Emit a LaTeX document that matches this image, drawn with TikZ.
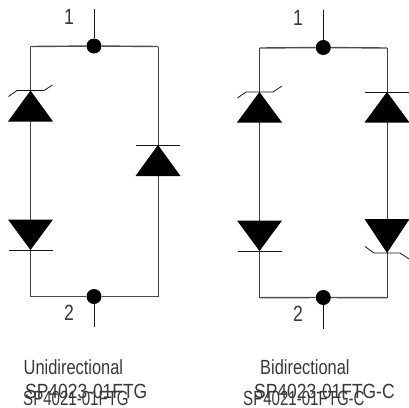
\documentclass[tikz,border=0pt]{standalone}
\usepackage{fontspec}
\setmainfont{Liberation Sans}
\newfontfamily\narrowA[FakeStretch=0.80]{Liberation Sans}
\newfontfamily\narrowC[FakeStretch=0.85]{Liberation Sans}
\newfontfamily\narrowB[FakeStretch=0.735]{Liberation Sans}
\definecolor{ink}{gray}{0.08}
\definecolor{txt}{gray}{0.22}
\tikzset{
  wire/.style={draw=black!75,line width=1pt},
  hwire/.style={draw=black!70,line width=1.4pt},
  stub/.style={draw=ink,line width=1pt},
  bar/.style={draw=ink,line width=0.8pt},
  junction/.style={circle,fill=black,inner sep=0pt,minimum size=15pt},
  lab/.style={inner sep=0pt,anchor=base west,text=txt},
  num/.style={lab,font=\fontsize{22}{22}\narrowA},
  capA/.style={lab,font=\fontsize{20.5}{20.5}\narrowA},
  capC/.style={lab,font=\fontsize{20.5}{20.5}\narrowC},
  capB/.style={lab,font=\fontsize{20.5}{20.5}\narrowB},
}
% \diodeshape{name}{x}{base y}{apex y}
\newcommand{\diodeshape}[4]{%
  \fill[black] (#2-22.5,#3) -- (#2+22.5,#3) -- (#2,#4) -- cycle;
  \coordinate (#1) at (#2,#4);
}
\begin{document}
\begin{tikzpicture}[x=1pt,y=-1pt]
\useasboundingbox (0,0) rectangle (409,407);
% ---- left circuit
\node[junction] (Ltop) at (94,46) {};
\node[junction] (Lbot) at (94,296.5) {};
\coordinate (Lt1) at (94,9);
\coordinate (Lb1) at (94,327);
\coordinate (Ltl) at (30.5,46.5);
\coordinate (Ltr) at (158,46.5);
\coordinate (Lbl) at (30.5,296.5);
\coordinate (Lbr) at (158,296.5);
\draw[stub] (Ltop) -- (Lt1);
\draw[stub] (Lbot) -- (Lb1);
\draw[hwire] (Ltl) -- (Ltop) -- (Ltr);
\draw[hwire] (Lbl) -- (Lbot) -- (Lbr);
\draw[wire] (Ltl) -- (Lbl);
\draw[wire] (Ltr) -- (Lbr);
\diodeshape{La}{30.5}{121.5}{90.5}
\draw[bar] (8.5,96.5) -- (17,90.5) -- (44,90.5) -- (52.5,85);
\diodeshape{Lb}{30.5}{219.5}{250}
\draw[bar] (8.5,250) -- (53,250);
\diodeshape{Lc}{158}{176}{145}
\draw[bar] (136,145) -- (180,145);
\node[num] (n1) at (64,24) {1};
\node[num] (n2) at (64,320) {2};
% ---- right circuit
\node[junction] (Rtop) at (323.3,47.5) {};
\node[junction] (Rbot) at (323.3,297.5) {};
\coordinate (Rt1) at (323.3,10);
\coordinate (Rb1) at (323.3,328.5);
\coordinate (Rtl) at (259.5,48);
\coordinate (Rtr) at (387,48);
\coordinate (Rbl) at (259.5,297.7);
\coordinate (Rbr) at (387,297.7);
\draw[stub] (Rtop) -- (Rt1);
\draw[stub] (Rbot) -- (Rb1);
\draw[hwire] (Rtl) -- (Rtop) -- (Rtr);
\draw[hwire] (Rbl) -- (Rbot) -- (Rbr);
\draw[wire] (Rtl) -- (Rbl);
\draw[wire] (Rtr) -- (Rbr);
\diodeshape{Ra}{259.5}{122.5}{92}
\draw[bar] (237.5,98) -- (246,92) -- (273,92) -- (282,86);
\diodeshape{Rb}{259.5}{220.5}{251}
\draw[bar] (237.5,251) -- (282,251);
\diodeshape{Rc}{387}{122.5}{92}
\draw[bar] (365,92) -- (409,92);
\diodeshape{Rd}{387}{219}{253}
\draw[bar] (365,246.5) -- (374,253) -- (400,253) -- (409,259);
\node[num] (n3) at (293,25) {1};
\node[num] (n4) at (293,321) {2};
% ---- captions
\node[capA] (t1) at (23.5,374) {Unidirectional};
\node[capC] (t2) at (25,398) {SP4023-01FTG};
\node[capB] (t3) at (23,405) {SP4021-01FTG};
\node[capA] (t4) at (260,374) {Bidirectional};
\node[capC] (t5) at (254,398) {SP4023-01FTG-C};
\node[capB] (t6) at (243,405) {SP4021-01FTG-C};
\end{tikzpicture}
\end{document}
